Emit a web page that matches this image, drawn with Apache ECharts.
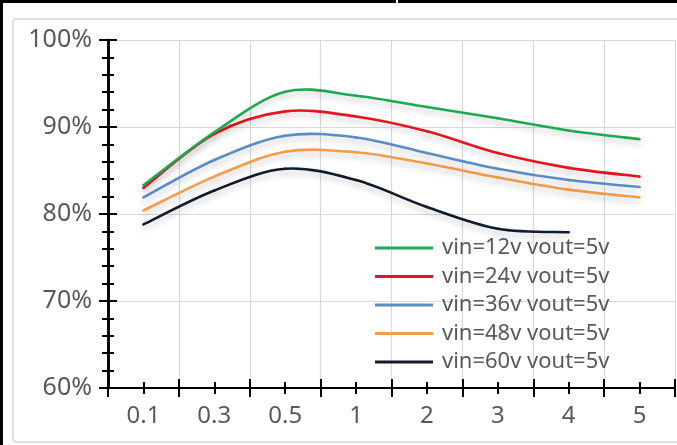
<!DOCTYPE html>
<html>
<head>
<meta charset="utf-8">
<script src="https://cdn.jsdelivr.net/npm/echarts@6/dist/echarts.min.js"></script>
<style>
html,body{margin:0;padding:0;background:#fff;}
#c{width:677px;height:445px;}
</style>
</head>
<body>
<div id="c"></div>
<script>
const categories = ['0.1', '0.3', '0.5', '1', '2', '3', '4', '5'];
const yTicks = [60, 70, 80, 90, 100];
const seriesNames = ['vin=12v vout=5v', 'vin=24v vout=5v', 'vin=36v vout=5v', 'vin=48v vout=5v', 'vin=60v vout=5v'];
const vin12 = [83.3, 89.4, 94.05, 93.6, 92.3, 91.0, 89.6, 88.6];
const vin24 = [83.0, 89.2, 91.8, 91.2, 89.5, 87.0, 85.3, 84.3];
const vin36 = [81.9, 86.2, 89.0, 88.8, 87.0, 85.2, 83.9, 83.1];
const vin48 = [80.4, 84.3, 87.15, 87.1, 85.8, 84.2, 82.8, 81.9];
const vin60 = [78.8, 82.7, 85.2, 83.9, 80.8, 78.3, 77.9];
const colors = ['#1da851', '#e5151e', '#5b8cc7', '#f49c4c', '#101c2c'];
const allData = [vin12, vin24, vin36, vin48, vin60];

const FONT = 'Noto Sans';
const gridCol = '#d9d9d9';

function xAx(opts) {
  return Object.assign({
    type: 'category', data: categories, boundaryGap: true, position: 'bottom', gridIndex: 0,
    axisLine: { show: true, lineStyle: { color: '#000', width: 2 } },
    axisLabel: { show: false },
    splitLine: { show: false },
    axisTick: { show: true, length: 9, inside: false, alignWithLabel: false, lineStyle: { color: '#000', width: 2 } }
  }, opts);
}
function yAx(opts) {
  return Object.assign({
    type: 'value', min: yTicks[0], max: yTicks[yTicks.length - 1], interval: 10, position: 'left',
    axisLine: { show: true, lineStyle: { color: '#000', width: 2.5 } },
    axisLabel: { show: false },
    splitLine: { show: false },
    axisTick: { show: true, length: 9, inside: false, lineStyle: { color: '#000', width: 2 } },
    minorTick: { show: true, splitNumber: 5, length: 6, lineStyle: { color: '#000', width: 2 } }
  }, opts);
}

// Smooth (Catmull-Rom style) segment drawing through the axis scales
function makeRender(values, color) {
  return function (params, api) {
    const i = params.dataIndex;
    if (i >= values.length - 1) return null;
    const clampI = k => Math.max(0, Math.min(values.length - 1, k));
    const pt = k => api.coord([clampI(k), values[clampI(k)]]);
    const p0 = pt(i - 1), p1 = pt(i), p2 = pt(i + 1), p3 = pt(i + 2);
    const t = 1 / 6;
    return {
      type: 'bezierCurve',
      shape: {
        x1: p1[0], y1: p1[1], x2: p2[0], y2: p2[1],
        cpx1: p1[0] + (p2[0] - p0[0]) * t, cpy1: p1[1] + (p2[1] - p0[1]) * t,
        cpx2: p2[0] - (p3[0] - p1[0]) * t, cpy2: p2[1] - (p3[1] - p1[1]) * t
      },
      style: {
        fill: null, stroke: color, lineWidth: 2.6, lineCap: 'round',
        shadowColor: 'rgba(0,0,0,0.22)', shadowBlur: 6, shadowOffsetY: 4
      }
    };
  };
}

const chart = echarts.init(document.getElementById('c'), null, { renderer: 'canvas' });
chart.setOption({
  animation: false,
  backgroundColor: '#fff',
  textStyle: { fontFamily: FONT },
  graphic: [
    { type: 'rect', z: -10, silent: true, shape: { x: 13, y: 19, width: 700, height: 423, r: 3 }, style: { fill: '#fff', stroke: '#d6d6d6', lineWidth: 1.5 } },
    { type: 'rect', z: 100, silent: true, shape: { x: 0, y: 0, width: 3, height: 445 }, style: { fill: '#000' } },
    { type: 'rect', z: 100, silent: true, shape: { x: 0, y: 0, width: 396, height: 3 }, style: { fill: '#000' } },
    { type: 'rect', z: 100, silent: true, shape: { x: 398, y: 0, width: 279, height: 3 }, style: { fill: '#000' } }
  ],
  grid: { left: 108, right: 2, top: 40, bottom: 57, containLabel: false },
  legend: {
    orient: 'vertical', left: 375, top: 237, padding: 0,
    icon: 'rect', itemWidth: 58, itemHeight: 3, itemGap: 6.5,
    data: seriesNames,
    textStyle: { fontFamily: FONT, fontSize: 22, color: '#595959', padding: [0, 0, 0, 4] }
  },
  xAxis: [
    xAx({
      axisLabel: { show: true, fontFamily: FONT, fontSize: 24, color: '#595959', margin: 16 },
      splitLine: { show: true, lineStyle: { color: gridCol, width: 1.2 } }
    }),
    xAx({ axisTick: { show: true, length: 9, inside: true, alignWithLabel: false, lineStyle: { color: '#000', width: 2 } } }),
    xAx({ axisTick: { show: true, length: 6, inside: false, alignWithLabel: true, lineStyle: { color: '#000', width: 2 } } }),
    xAx({ axisTick: { show: true, length: 6, inside: true, alignWithLabel: true, lineStyle: { color: '#000', width: 2 } } })
  ],
  yAxis: [
    yAx({
      axisLabel: { show: true, fontFamily: FONT, fontSize: 25, color: '#595959', margin: 16, formatter: '{value}%' },
      splitLine: { show: true, lineStyle: { color: gridCol, width: 1.2 } }
    }),
    yAx({
      axisTick: { show: true, length: 9, inside: true, lineStyle: { color: '#000', width: 2 } },
      minorTick: { show: true, splitNumber: 5, length: 6, lineStyle: { color: '#000', width: 2 } }
    })
  ],
  series: seriesNames.map((n, i) => ({
    name: n, type: 'custom', xAxisIndex: 0, yAxisIndex: 0,
    coordinateSystem: 'cartesian2d', clip: false,
    data: allData[i].map((v, k) => [k, v]),
    encode: { x: 0, y: 1 },
    itemStyle: { color: colors[i] },
    renderItem: makeRender(allData[i], colors[i]),
    z: 10 - i
  }))
});
</script>
</body>
</html>
